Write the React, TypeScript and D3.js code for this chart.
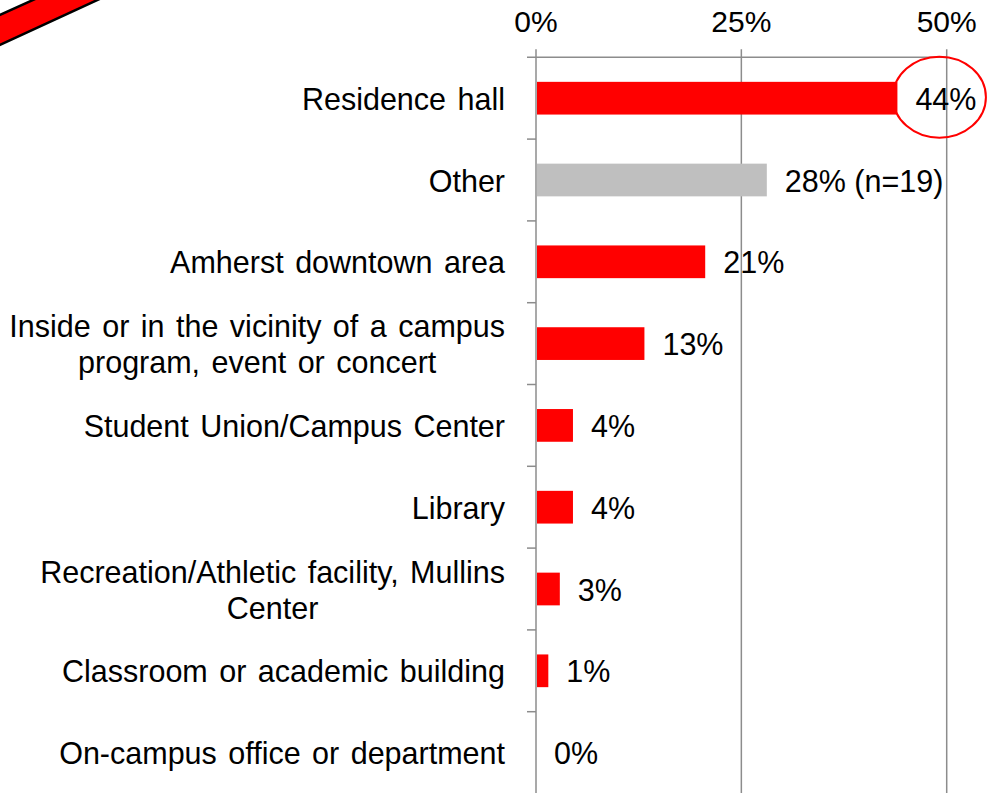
import React, { useEffect, useRef } from "react";
import * as d3 from "d3";

const categories = [
  "Residence hall",
  "Other",
  "Amherst downtown area",
  "Inside or in the vicinity of a campus\nprogram, event or concert",
  "Student Union/Campus Center",
  "Library",
  "Recreation/Athletic facility, Mullins\nCenter",
  "Classroom or academic building",
  "On-campus office or department",
];
const values = [44.0, 28.1, 20.6, 13.2, 4.5, 4.5, 2.9, 1.5, 0];
const valueLabels = ["44%", "28% (n=19)", "21%", "13%", "4%", "4%", "3%", "1%", "0%"];
const barGroups = ["main", "other", "main", "main", "main", "main", "main", "main", "main"];
const tickValues = [0, 25, 50];
const tickLabels = ["0%", "25%", "50%"];

const W = 990;
const H = 793;
const FONT = "Arial, 'Liberation Sans', Helvetica, sans-serif";

export default function App() {
  const ref = useRef<SVGSVGElement | null>(null);

  useEffect(() => {
    document.body.style.margin = "0";
    const svg = d3.select(ref.current);
    svg.selectAll("*").remove();

    const x0 = 536;
    const x50 = 946.7;
    const top = 57.3;
    const bottom = 793.5;
    const x = d3.scaleLinear().domain([0, 50]).range([x0, x50]);
    const y = d3
      .scaleBand<string>()
      .domain(categories)
      .range([top, bottom])
      .paddingInner(0.6)
      .paddingOuter(0.3);
    const step = y.step();
    const grid = "#8c8c8c";

    // arrow tail (top-left annotation)
    svg
      .append("polygon")
      .attr("points", "-20,24 130,-44 130,-15 -20,54")
      .attr("fill", "#ff0000")
      .attr("stroke", "#000")
      .attr("stroke-width", 2.5);

    // vertical gridlines
    svg
      .append("g")
      .selectAll("line")
      .data(tickValues)
      .join("line")
      .attr("x1", (d) => x(d))
      .attr("x2", (d) => x(d))
      .attr("y1", top - 8)
      .attr("y2", H)
      .attr("stroke", grid)
      .attr("stroke-width", 1.5);

    // top axis line
    svg
      .append("line")
      .attr("x1", x0 - 9)
      .attr("x2", x50)
      .attr("y1", top)
      .attr("y2", top)
      .attr("stroke", grid)
      .attr("stroke-width", 1.5);

    // category tick marks
    svg
      .append("g")
      .selectAll("line")
      .data(d3.range(1, categories.length))
      .join("line")
      .attr("x1", x0 - 9)
      .attr("x2", x0)
      .attr("y1", (k) => top + k * step)
      .attr("y2", (k) => top + k * step)
      .attr("stroke", grid)
      .attr("stroke-width", 1.5);

    // tick labels
    svg
      .append("g")
      .selectAll("text")
      .data(tickValues)
      .join("text")
      .attr("x", (d) => x(d))
      .attr("y", 32)
      .attr("text-anchor", "middle")
      .attr("font-family", FONT)
      .attr("font-size", 30)
      .attr("fill", "#000")
      .text((d, i) => tickLabels[i]);

    // bars
    svg
      .append("g")
      .selectAll("rect")
      .data(categories)
      .join("rect")
      .attr("x", x(0) + 1)
      .attr("y", (c) => y(c)!)
      .attr("width", (c, i) => Math.max(0, x(values[i]) - x(0) - 1))
      .attr("height", y.bandwidth())
      .attr("fill", (c, i) => (barGroups[i] === "other" ? "#bfbfbf" : "#ff0000"));

    // value labels
    svg
      .append("g")
      .selectAll("text")
      .data(categories)
      .join("text")
      .attr("x", (c, i) => x(values[i]) + 18)
      .attr("y", (c) => y(c)! + y.bandwidth() / 2 + 11.5)
      .attr("font-family", FONT)
      .attr("font-size", 30.5)
      .attr("fill", "#000")
      .text((c, i) => valueLabels[i]);

    // category labels
    const labelRight = 505;
    const lineGap = 36;
    const lg = svg.append("g");
    categories.forEach((c) => {
      const lines = c.split("\n");
      const cy = y(c)! + y.bandwidth() / 2;
      const t = lg
        .append("text")
        .attr("font-family", FONT)
        .attr("font-size", 30.5)
        .attr("fill", "#000")
        .style("word-spacing", "3px");
      if (lines.length === 1) {
        t.attr("x", labelRight).attr("y", cy + 11.5).attr("text-anchor", "end").text(c);
      } else {
        const spans = lines.map((ln, j) =>
          t
            .append("tspan")
            .attr("y", cy + 11.5 + (j - (lines.length - 1) / 2) * lineGap)
            .attr("text-anchor", "middle")
            .text(ln)
        );
        const widths = spans.map((s) => (s.node() as SVGTSpanElement).getComputedTextLength());
        const maxW = d3.max(widths) || 0;
        spans.forEach((s) => s.attr("x", labelRight - maxW / 2));
      }
    });

    // highlight ellipse around the top value
    svg
      .append("ellipse")
      .attr("cx", x(values[0]) + 42)
      .attr("cy", y(categories[0])! + y.bandwidth() / 2 - 1)
      .attr("rx", 46.5)
      .attr("ry", 40.5)
      .attr("fill", "none")
      .attr("stroke", "#ff0000")
      .attr("stroke-width", 2);
  }, []);

  return (
    <svg
      ref={ref}
      width={W}
      height={H}
      style={{ position: "absolute", left: 0, top: 0, background: "#fff" }}
    />
  );
}
